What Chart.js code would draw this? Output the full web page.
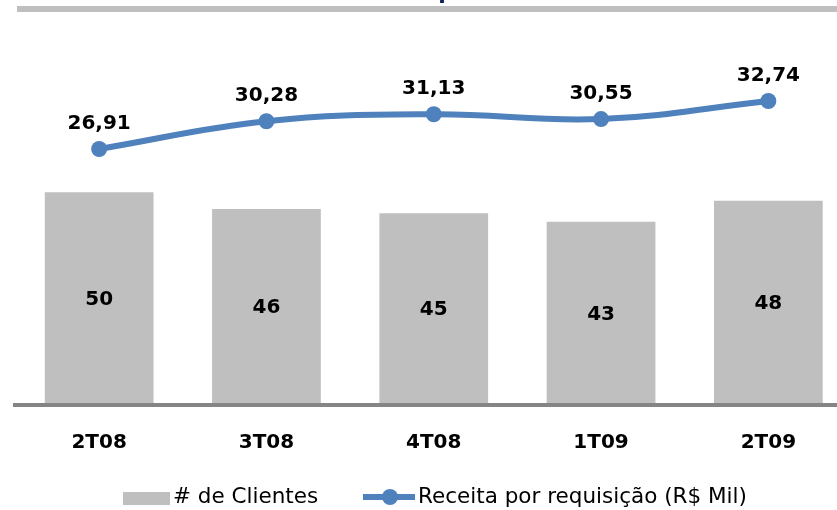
<!DOCTYPE html>
<html>
<head>
<meta charset="utf-8">
<script src="https://cdn.jsdelivr.net/npm/chart.js@4/dist/chart.umd.min.js"></script>
<style>
  html, body { margin: 0; padding: 0; background: #fff; overflow: hidden; }
  #wrap { width: 837px; height: 510px; overflow: hidden; position: relative; }
  canvas { position: absolute; left: 0; top: 0; }
</style>
</head>
<body>
<div id="wrap"><canvas id="chart" width="860" height="510"></canvas></div>
<script>
// dados
const categories = ['2T08', '3T08', '4T08', '1T09', '2T09'];
const clientes = [50, 46, 45, 43, 48];
const receita = [26.91, 30.28, 31.13, 30.55, 32.74];
const receitaLabels = ['26,91', '30,28', '31,13', '30,55', '32,74'];
const legendLabels = ['# de Clientes', 'Receita por requisição (R$ Mil)'];

const BAR_COLOR = '#bfbfbf';
const LINE_COLOR = '#4f81bd';
const LABEL_FONT = 'bold 20px "DejaVu Sans"';

// rótulos, linha do eixo, faixa do topo e legenda
const decor = {
  id: 'decor',
  beforeDraw(chart) {
    const ctx = chart.ctx;
    ctx.save();
    ctx.fillStyle = '#bfbfbf';
    ctx.fillRect(17, 6, 843, 6);
    // título cortado no topo
    ctx.fillStyle = '#0b1f5c';
    ctx.font = 'bold 22px "DejaVu Sans"';
    ctx.textAlign = 'center';
    ctx.textBaseline = 'alphabetic';
    ctx.fillText('p', 446, -1);
    ctx.restore();
  },
  afterDatasetsDraw(chart) {
    const ctx = chart.ctx;
    const yBar = chart.scales.yBar;
    const y0 = yBar.getPixelForValue(0);
    ctx.save();
    ctx.strokeStyle = '#858585';
    ctx.lineWidth = 4;
    ctx.beginPath();
    ctx.moveTo(13, y0 + 2);
    ctx.lineTo(860, y0 + 2);
    ctx.stroke();

    ctx.fillStyle = '#000';
    ctx.font = LABEL_FONT;
    ctx.textAlign = 'center';
    ctx.textBaseline = 'middle';
    chart.getDatasetMeta(1).data.forEach((bar, i) => {
      ctx.fillText(String(clientes[i]), bar.x, (bar.y + bar.base) / 2 + 2);
    });
    chart.getDatasetMeta(0).data.forEach((pt, i) => {
      ctx.fillText(receitaLabels[i], pt.x, pt.y - 25);
    });
    ctx.restore();
  },
  afterDraw(chart) {
    const ctx = chart.ctx;
    ctx.save();
    ctx.font = '21.5px "DejaVu Sans"';
    ctx.textBaseline = 'middle';
    // barras
    ctx.fillStyle = BAR_COLOR;
    ctx.fillRect(123, 492, 47, 13);
    ctx.fillStyle = '#000';
    ctx.fillText(legendLabels[0], 173, 497);
    // linha
    ctx.strokeStyle = LINE_COLOR;
    ctx.lineWidth = 6;
    ctx.beginPath();
    ctx.moveTo(363, 497);
    ctx.lineTo(415, 497);
    ctx.stroke();
    ctx.fillStyle = LINE_COLOR;
    ctx.beginPath();
    ctx.arc(390, 497, 8, 0, Math.PI * 2);
    ctx.fill();
    ctx.fillStyle = '#000';
    ctx.fillText(legendLabels[1], 418, 497);
    ctx.restore();
  }
};

new Chart(document.getElementById('chart'), {
  data: {
    labels: categories,
    datasets: [
      {
        type: 'line',
        label: legendLabels[1],
        data: receita,
        yAxisID: 'yLine',
        borderColor: LINE_COLOR,
        backgroundColor: LINE_COLOR,
        borderWidth: 6,
        pointRadius: 8,
        pointBackgroundColor: LINE_COLOR,
        pointBorderWidth: 0,
        tension: 0.4,
        order: 0
      },
      {
        type: 'bar',
        label: legendLabels[0],
        data: clientes,
        yAxisID: 'yBar',
        backgroundColor: BAR_COLOR,
        barPercentage: 0.65,
        categoryPercentage: 1,
        order: 1
      }
    ]
  },
  options: {
    responsive: false,
    animation: false,
    layout: { padding: { top: 30, left: 15.5, right: 4.5, bottom: 0 } },
    plugins: { legend: { display: false }, tooltip: { enabled: false } },
    scales: {
      x: {
        grid: { display: false, drawTicks: false },
        border: { display: false },
        ticks: { color: '#000', font: { family: 'DejaVu Sans', size: 20, weight: 'bold' }, padding: 28 },
        afterFit: (scale) => { scale.height = 107; }
      },
      yBar: { display: false, min: 0, max: 88.5 },
      yLine: { display: false, min: -3.95, max: 41.37 }
    }
  },
  plugins: [decor]
});
</script>
</body>
</html>
